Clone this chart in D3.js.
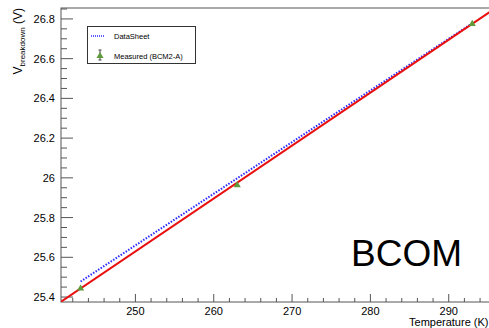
<!DOCTYPE html>
<html>
<head>
<meta charset="utf-8">
<script src="https://cdn.jsdelivr.net/npm/d3@7"></script>
<style>
  body { margin: 0; background: #fff; }
  text { font-family: "Liberation Sans", Arial, sans-serif; fill: #000; }
</style>
</head>
<body>
<div id="chart"></div>
<script>
// measured points (BCM2-A)
const measTemp = [243, 263, 293];
const measVolt = [25.443, 25.963, 26.775];
const measErr = [0.006, 0.006, 0.006];

// datasheet line
const dsTemp = [243, 263, 293];
const dsVolt = [25.478, 25.998, 26.778];

// linear fit: V = fitA + fitB * (T - 243)
const fitA = 25.443;
const fitB = 0.02664;

const xTicks = [250, 260, 270, 280, 290];
const yTicks = [25.4, 25.6, 25.8, 26, 26.2, 26.4, 26.6, 26.8];

const width = 489, height = 328;
const padL = 61, padT = 8, padB = 302;

const xScale = d3.scaleLinear().domain([240.5, 296]).range([padL, padL + 55.5 * 7.833]);
const yScale = d3.scaleLinear().domain([25.375, 26.855]).range([padB, padT]);

const svg = d3.select('#chart').append('svg')
    .attr('width', width)
    .attr('height', height);

// frame
svg.append('rect')
    .attr('x', padL).attr('y', padT)
    .attr('width', xScale.range()[1] - padL)
    .attr('height', padB - padT)
    .attr('fill', 'none')
    .attr('stroke', '#555')
    .attr('stroke-width', 1);

// x axis ticks
let xMinor = d3.range(242, 296, 2);
let xg = svg.append('g');
xg.selectAll('line.minor').data(xMinor).enter().append('line')
    .attr('x1', d => xScale(d)).attr('x2', d => xScale(d))
    .attr('y1', padB).attr('y2', d => (d % 10 === 0 ? padB - 8 : padB - 4))
    .attr('stroke', '#555');
xg.selectAll('text').data(xTicks).enter().append('text')
    .attr('x', d => xScale(d)).attr('y', 314.5)
    .attr('text-anchor', 'middle')
    .attr('font-size', 11)
    .text(d => d);

// y axis ticks
let yMinor = d3.range(25.4, 26.86, 0.05);
let yg = svg.append('g');
yg.selectAll('line').data(yMinor).enter().append('line')
    .attr('x1', padL)
    .attr('x2', (d, i) => (i % 4 === 0 ? padL + 12 : padL + 6))
    .attr('y1', d => yScale(d)).attr('y2', d => yScale(d))
    .attr('stroke', '#555');
yg.selectAll('text').data(yTicks).enter().append('text')
    .attr('x', 55).attr('y', d => yScale(d) + 4)
    .attr('text-anchor', 'end')
    .attr('font-size', 11)
    .text(d => d);

// axis titles
let yLab = svg.append('text')
    .attr('transform', 'translate(22,8) rotate(-90)')
    .attr('text-anchor', 'end')
    .attr('font-size', 12);
yLab.append('tspan').text('V');
yLab.append('tspan').attr('font-size', 8).attr('dy', 3).text('breakdown');
yLab.append('tspan').attr('dy', -3).text(' (V)');

svg.append('text')
    .attr('x', 488.5).attr('y', 326)
    .attr('text-anchor', 'end')
    .attr('font-size', 11)
    .text('Temperature (K)');

svg.append('clipPath').attr('id', 'plotclip')
    .append('rect').attr('x', padL).attr('y', padT)
    .attr('width', 500).attr('height', padB - padT);

let plot = svg.append('g').attr('clip-path', 'url(#plotclip)');

let line = d3.line()
    .x(d => xScale(d[0]))
    .y(d => yScale(d[1]));

// datasheet
plot.append('path')
    .attr('d', line(dsTemp.map((t, i) => [t, dsVolt[i]])))
    .attr('fill', 'none')
    .attr('stroke', '#2a2aff')
    .attr('stroke-width', 2)
    .attr('stroke-dasharray', '1.5,1.5');

// fit line over full range
let xd = xScale.domain();
plot.append('path')
    .attr('d', line(xd.map(t => [t, fitA + fitB * (t - 243)])))
    .attr('fill', 'none')
    .attr('stroke', '#e8100f')
    .attr('stroke-width', 2);

// measured points
let tri = d3.symbol().type(d3.symbolTriangle).size(22);
measTemp.forEach((t, i) => {
    let cx = xScale(t), cy = yScale(measVolt[i]);
    plot.append('line')
        .attr('x1', cx).attr('x2', cx)
        .attr('y1', yScale(measVolt[i] + measErr[i]))
        .attr('y2', yScale(measVolt[i] - measErr[i]))
        .attr('stroke', '#666');
    plot.append('path')
        .attr('d', tri())
        .attr('transform', `translate(${cx},${cy})`)
        .attr('fill', '#5f9a3c');
});

// legend
let lg = svg.append('g');
lg.append('rect')
    .attr('x', 87.5).attr('y', 26.5)
    .attr('width', 108).attr('height', 37)
    .attr('fill', '#fff')
    .attr('stroke', '#333')
    .attr('stroke-width', 1);
lg.append('line')
    .attr('x1', 91).attr('x2', 105)
    .attr('y1', 36).attr('y2', 36)
    .attr('stroke', '#2a2aff')
    .attr('stroke-width', 1.5)
    .attr('stroke-dasharray', '1,1');
lg.append('text').attr('x', 114).attr('y', 38.5).attr('font-size', 7.5).text('DataSheet');
lg.append('line')
    .attr('x1', 100).attr('x2', 100).attr('y1', 50).attr('y2', 60)
    .attr('stroke', '#444');
lg.append('line').attr('x1', 98.5).attr('x2', 101.5).attr('y1', 50).attr('y2', 50).attr('stroke', '#444');
lg.append('line').attr('x1', 98.5).attr('x2', 101.5).attr('y1', 60).attr('y2', 60).attr('stroke', '#444');
lg.append('path')
    .attr('d', tri())
    .attr('transform', 'translate(100,56)')
    .attr('fill', '#5f9a3c');
lg.append('text').attr('x', 114).attr('y', 58.5).attr('font-size', 7.5).text('Measured (BCM2-A)');

// big label
svg.append('text')
    .attr('x', 351).attr('y', 265.5)
    .attr('font-size', 37)
    .text('BCOM');
</script>
</body>
</html>
